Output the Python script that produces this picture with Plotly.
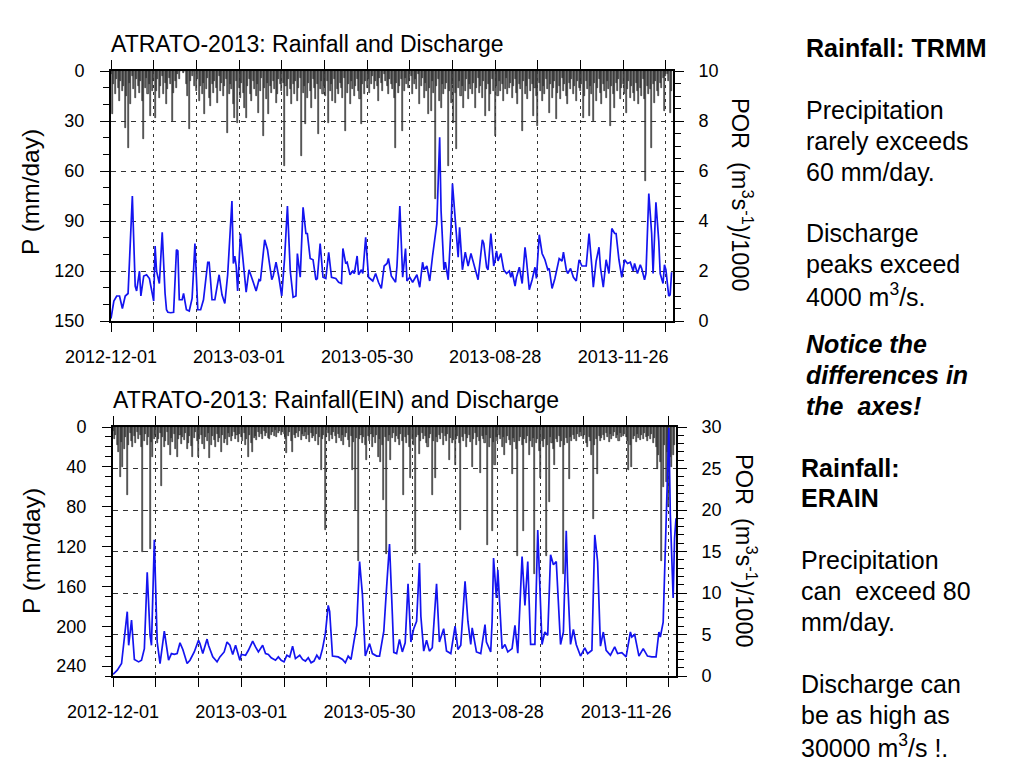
import pandas as pd
import plotly.graph_objects as go

START = pd.Timestamp("2012-12-01")

# ---------------- data ----------------
# daily rainfall, TRMM (mm/day), starting 2012-12-01
rain_trmm = [
    2, 26, 8, 14, 5, 10, 18, 6, 12, 9, 34, 15, 46, 7, 20, 3, 11, 16, 5, 9, 13, 6, 18, 41, 10, 4, 14, 8, 27, 12,
    6, 28, 12, 5, 16, 9, 3, 14, 7, 20, 11, 4, 8, 30, 13, 6, 10, 2, 5, 0, 0, 1, 0, 8, 15, 35, 6, 3, 0, 9,
    12, 5, 18, 9, 14, 7, 26, 11, 4, 16, 21, 8, 13, 6, 10, 19, 3, 12, 7, 15, 9, 5, 37, 14, 8, 11, 20, 28, 6, 31,
    10, 16, 7, 13, 22, 28, 9, 5, 14, 18, 6, 11, 15, 8, 25, 12, 4, 39, 10, 17, 7, 26, 9, 13, 6, 11, 19, 14, 5, 8,
    12, 7, 57, 9, 15, 5, 11, 20, 8, 14, 6, 18, 10, 4, 51, 13, 9, 32, 16, 7, 12, 22, 5, 10, 17, 8, 38, 11, 6, 14,
    9, 15, 6, 31, 12, 8, 18, 5, 19, 11, 14, 7, 10, 16, 4, 36, 13, 8, 20, 6, 11, 15, 9, 5, 12, 17, 32, 8, 14, 6,
    10, 5, 13, 8, 3, 11, 6, 9, 18, 4, 7, 12, 2, 6, 9, 14, 5, 8, 11, 16, 46, 7, 13, 9, 5, 36, 12, 4, 8, 10,
    6, 3, 14, 8, 5, 11, 2, 20, 9, 4, 16, 7, 12, 26, 10, 24, 6, 13, 77, 9, 5, 18, 22, 8, 14, 11, 7, 57, 12, 19,
    8, 31, 13, 47, 10, 6, 15, 9, 22, 12, 5, 17, 8, 11, 14, 7, 22, 10, 4, 13, 9, 16, 6, 27, 11, 8, 24, 14, 5, 12,
    39, 9, 15, 6, 12, 8, 18, 11, 4, 14, 10, 7, 16, 9, 5, 13, 20, 8, 11, 36, 6, 14, 9, 17, 5, 12, 8, 27, 10, 15,
    33, 7, 12, 18, 9, 14, 5, 11, 25, 8, 16, 10, 6, 29, 13, 9, 17, 4, 12, 8, 15, 20, 7, 11, 5, 14, 9, 18, 6, 10,
    12, 8, 28, 15, 6, 11, 27, 9, 14, 30, 7, 18, 10, 5, 13, 20, 8, 12, 16, 6, 11, 33, 9, 14, 22, 7, 12, 5, 17, 10,
    8, 14, 25, 11, 6, 16, 9, 13, 18, 7, 12, 20, 10, 15, 5, 17, 66, 9, 14, 11, 46, 8, 19, 6, 12, 15, 7, 10, 4, 24,
    3, 2, 6, 25, 12,
]

# daily rainfall, ERA-Interim (mm/day), starting 2012-12-01
rain_erain = [
    4, 12, 8, 18, 25, 50, 15, 40, 22, 10, 68, 18, 6, 14, 20, 9, 16, 5, 12, 8, 20, 125, 14, 7, 18, 10, 122, 15, 30, 12,
    8, 16, 12, 6, 59, 10, 20, 14, 5, 18, 28, 11, 15, 7, 22, 30, 12, 8, 17, 10, 13, 6, 22, 16, 9, 19, 30, 11, 5, 14,
    30, 12, 8, 17, 22, 10, 14, 6, 31, 18, 9, 13, 20, 7, 15, 11, 25, 8, 16, 12, 18, 6, 10, 14, 9, 5, 12, 8, 15, 7,
    10, 14, 6, 18, 12, 30, 8, 16, 25, 11, 9, 13, 5, 10, 7, 12, 4, 9, 6, 11, 12, 8, 5, 9, 3, 10, 6, 4, 8, 5,
    7, 12, 26, 9, 5, 14, 25, 8, 11, 6, 10, 4, 13, 7, 9, 5, 12, 8, 15, 6, 11, 9, 14, 7, 18, 10, 43, 12, 8, 103,
    10, 6, 14, 8, 12, 5, 9, 16, 7, 11, 14, 8, 18, 10, 6, 13, 20, 9, 43, 15, 83, 11, 135, 12, 8, 16, 10, 18, 33, 9,
    14, 7, 20, 10, 16, 8, 30, 12, 35, 18, 73, 10, 128, 14, 8, 33, 11, 6, 15, 9, 12, 18, 7, 14, 68, 10, 16, 8, 20, 51,
    12, 18, 128, 10, 8, 27, 14, 6, 12, 9, 16, 20, 11, 7, 68, 14, 51, 10, 15, 8, 12, 6, 18, 9, 14, 7, 33, 11, 16, 13,
    38, 12, 9, 16, 103, 10, 14, 7, 20, 11, 8, 15, 40, 12, 6, 18, 10, 14, 46, 9, 12, 16, 8, 118, 20, 11, 104, 15, 38, 10,
    14, 8, 12, 20, 10, 28, 16, 9, 13, 18, 47, 11, 15, 22, 130, 14, 10, 18, 104, 12, 16, 9, 28, 14, 20, 11, 148, 16, 12, 24,
    51, 14, 20, 12, 130, 18, 75, 10, 16, 22, 38, 12, 15, 9, 20, 14, 148, 18, 11, 16, 52, 10, 14, 8, 12, 14, 7, 10, 5, 9,
    12, 8, 16, 20, 10, 14, 28, 92, 18, 12, 47, 9, 14, 11, 8, 13, 6, 10, 15, 7, 12, 9, 5, 11, 8, 14, 6, 10, 9, 7,
    10, 14, 43, 18, 40, 12, 9, 15, 7, 11, 13, 8, 12, 6, 10, 14, 9, 12, 7, 16, 11, 20, 42, 28, 35, 135, 60, 18, 55, 25,
    80, 30, 40, 28, 18,
]

# discharge (m3/s / 1000): (day since 2012-12-01, value)
q_top = [
    (0, 0.1), (2, 0.8), (4, 1.0), (6, 1.0), (8, 0.5), (10, 1.0), (12, 1.1), (15, 5.0), (17, 1.4), (18, 1.2),
    (20, 2.0), (21, 1.0), (23, 1.8), (25, 1.85), (27, 1.7), (29, 1.0), (30, 0.8), (31, 3.0), (32, 2.0), (34, 1.5),
    (36, 3.55), (38, 1.1), (39, 0.45), (40, 0.35), (42, 0.33), (44, 0.35), (46, 2.85), (47, 2.8), (48, 0.85),
    (50, 0.85), (51, 1.1), (53, 0.45), (55, 0.4), (57, 0.9), (59, 3.1), (61, 0.45), (63, 0.45), (65, 0.85),
    (68, 2.35), (69, 2.35), (71, 0.85), (73, 0.85), (76, 1.85), (78, 1.05), (80, 0.7), (82, 1.85), (85, 4.8),
    (86, 2.3), (87, 2.6), (88, 2.2), (89, 1.2), (91, 3.5), (93, 2.4), (95, 1.15), (97, 2.05), (99, 1.65),
    (100, 1.55), (102, 1.2), (104, 1.65), (105, 1.6), (108, 3.25), (110, 2.85), (113, 1.65), (114, 1.8),
    (116, 2.35), (118, 1.75), (120, 1.0), (122, 2.5), (124, 4.6), (126, 2.0), (128, 0.95), (130, 1.0),
    (131, 2.7), (133, 1.75), (135, 4.55), (137, 3.5), (138, 3.5), (140, 2.5), (142, 2.45), (144, 1.65),
    (145, 1.7), (147, 3.1), (149, 1.75), (151, 1.7), (153, 2.75), (155, 1.75), (158, 1.7), (160, 1.55),
    (162, 1.5), (163, 2.9), (165, 2.3), (166, 2.35), (168, 1.85), (170, 2.0), (171, 1.9), (173, 2.6),
    (174, 1.85), (176, 2.05), (177, 1.9), (179, 3.35), (181, 1.75), (184, 1.6), (186, 1.9), (188, 1.55),
    (190, 1.3), (192, 2.2), (194, 2.3), (195, 2.5), (197, 1.8), (200, 1.55), (201, 2.2), (203, 4.6),
    (205, 1.75), (207, 2.9), (208, 1.6), (210, 1.75), (212, 1.55), (215, 1.85), (217, 1.35), (219, 2.35),
    (220, 2.05), (222, 2.2), (224, 1.6), (226, 2.6), (229, 3.9), (231, 7.35), (232, 4.4), (234, 2.05),
    (235, 2.35), (237, 1.65), (239, 3.75), (240, 5.5), (242, 4.15), (244, 2.55), (245, 3.75), (247, 2.05),
    (249, 2.75), (251, 2.2), (253, 2.7), (255, 2.3), (258, 1.65), (261, 3.25), (262, 3.1), (264, 2.15),
    (265, 2.05), (267, 3.5), (269, 2.2), (270, 2.45), (271, 2.8), (272, 2.4), (274, 2.7), (276, 2.05),
    (278, 1.9), (280, 2.0), (281, 1.75), (282, 1.95), (284, 1.4), (285, 1.75), (287, 2.15), (289, 1.5),
    (291, 2.95), (292, 2.45), (294, 1.25), (296, 1.65), (298, 2.15), (299, 1.7), (301, 3.45), (303, 2.7),
    (305, 2.45), (307, 2.05), (308, 2.1), (310, 1.3), (312, 1.7), (315, 2.5), (317, 2.4), (318, 2.75),
    (320, 2.05), (321, 1.9), (323, 2.1), (325, 1.75), (327, 1.6), (329, 2.45), (331, 2.2), (334, 2.2),
    (336, 3.5), (338, 2.15), (339, 1.35), (341, 2.4), (343, 2.95), (344, 2.15), (346, 1.35), (348, 2.45),
    (350, 1.9), (352, 3.7), (354, 3.5), (355, 3.5), (357, 2.45), (359, 1.75), (361, 2.45), (363, 2.3),
    (365, 2.35), (367, 2.0), (368, 2.3), (370, 1.9), (372, 2.25), (373, 2.1), (375, 1.65), (376, 1.9),
    (378, 5.1), (380, 3.5), (381, 1.9), (383, 4.75), (385, 3.2), (386, 1.9), (388, 1.5), (389, 2.25),
    (390, 2.05), (392, 1.0), (393, 1.05), (394, 1.95),
]

q_bot = [
    (0, 0.2), (3, 0.7), (6, 1.5), (8, 4.9), (10, 7.75), (11, 3.7), (13, 6.75), (15, 2.0), (18, 1.7), (20, 1.9),
    (22, 3.3), (24, 12.5), (26, 4.9), (27, 3.7), (29, 16.4), (31, 4.1), (33, 1.5), (36, 5.4), (39, 1.9),
    (41, 2.7), (43, 2.6), (45, 2.7), (47, 4.0), (49, 3.2), (52, 1.5), (54, 1.9), (57, 2.9), (60, 4.3),
    (61, 3.9), (63, 2.7), (66, 4.45), (67, 3.7), (70, 2.3), (73, 1.7), (75, 2.3), (78, 2.9), (80, 4.1),
    (82, 3.7), (84, 2.6), (86, 3.7), (89, 1.9), (90, 2.6), (93, 2.5), (95, 3.1), (98, 4.2), (100, 3.5),
    (102, 2.9), (105, 3.7), (107, 2.7), (109, 2.6), (111, 2.2), (114, 1.9), (116, 2.3), (118, 1.9),
    (120, 1.7), (122, 2.5), (124, 2.3), (126, 3.6), (128, 2.1), (131, 2.5), (133, 2.0), (135, 1.8),
    (137, 2.2), (139, 1.6), (141, 1.8), (143, 2.5), (145, 2.0), (147, 3.3), (149, 5.1), (151, 8.5),
    (152, 7.8), (154, 2.4), (158, 2.3), (161, 2.0), (163, 1.6), (165, 2.4), (167, 2.0), (169, 4.1),
    (171, 6.1), (173, 13.8), (175, 9.8), (177, 2.4), (180, 3.9), (182, 2.7), (185, 2.4), (187, 2.4),
    (190, 5.4), (192, 10.8), (194, 15.9), (196, 7.4), (197, 2.85), (199, 2.7), (201, 4.4), (203, 2.9),
    (205, 4.0), (207, 11.1), (209, 4.1), (211, 5.7), (213, 6.6), (215, 13.6), (216, 7.2), (218, 3.0),
    (220, 4.3), (222, 3.0), (224, 3.4), (227, 11.1), (229, 4.1), (232, 5.7), (234, 3.0), (237, 2.7),
    (240, 6.0), (242, 3.2), (244, 3.7), (247, 11.4), (249, 6.6), (251, 3.8), (252, 5.8), (255, 2.9),
    (258, 2.7), (261, 6.2), (262, 4.1), (265, 2.9), (266, 6.6), (267, 14.2), (269, 9.4), (270, 12.8),
    (271, 9.4), (273, 3.3), (275, 3.8), (277, 2.9), (280, 3.3), (282, 6.1), (284, 2.75), (287, 14.4),
    (289, 8.5), (291, 13.8), (293, 3.8), (296, 3.8), (298, 17.6), (301, 3.8), (303, 5.3), (305, 4.9),
    (307, 14.6), (309, 13.4), (311, 13.8), (314, 3.8), (316, 5.3), (318, 17.5), (319, 11.4), (321, 3.8),
    (323, 5.6), (325, 3.8), (328, 2.4), (331, 3.4), (333, 2.7), (336, 3.1), (338, 17.0), (340, 13.8),
    (342, 3.6), (344, 5.3), (346, 3.1), (349, 2.5), (352, 3.5), (354, 2.7), (357, 2.8), (360, 2.3),
    (363, 5.3), (364, 4.7), (366, 5.0), (369, 2.4), (372, 3.3), (375, 2.4), (378, 2.3), (381, 2.3),
    (383, 5.3), (384, 4.7), (386, 6.5), (388, 19.5), (390, 29.9), (391, 19.5), (393, 9.4), (394, 16.6),
    (395, 19.0),
]

tick_dates = ["2012-12-01", "2012-12-31", "2013-01-30", "2013-03-01", "2013-03-31", "2013-04-30",
              "2013-05-30", "2013-06-29", "2013-07-29", "2013-08-28", "2013-09-27", "2013-10-27",
              "2013-11-26", "2013-12-26"]
tick_labels = ["2012-12-01", "", "", "2013-03-01", "", "", "2013-05-30", "", "", "2013-08-28",
               "", "", "2013-11-26", ""]

p_ticks_top = [0, 30, 60, 90, 120, 150]
q_ticks_top = [0, 2, 4, 6, 8, 10]
p_ticks_bot = [0, 40, 80, 120, 160, 200, 240]
q_ticks_bot = [0, 5, 10, 15, 20, 25, 30]

titles = ["ATRATO-2013: Rainfall and Discharge", "ATRATO-2013: Rainfall(EIN) and Discharge"]
left_title = "P (mm/day)"
right_title = "POR  (m<sup>3</sup>s<sup>-1</sup>)/1000"

notes_top = ["<b>Rainfall: TRMM</b>", "Precipitation", "rarely exceeds", "60 mm/day.",
             "Discharge", "peaks exceed", "4000 m<sup>3</sup>/s.",
             "<b><i>Notice the</i></b>", "<b><i>differences in</i></b>", "<b><i>the  axes!</i></b>"]
notes_bot = ["<b>Rainfall:</b>", "<b>ERAIN</b>", "Precipitation", "can  exceed 80", "mm/day.",
             "Discharge can", "be as high as", "30000 m<sup>3</sup>/s !."]

# ---------------- figure ----------------
FONT = "Liberation Sans, Arial, Helvetica, sans-serif"
PAGE_OFF = 8            # default body margin of the html page
W, H = 1024 - 2 * PAGE_OFF, 768 - 2 * PAGE_OFF
DAY_MS = 86400000


def px_x(xp):           # page pixel -> paper fraction
    return (xp - PAGE_OFF) / W


def px_y(yp):
    return 1 - (yp - PAGE_OFF) / H


def day_dates(days):
    return [START + pd.Timedelta(days=d) for d in days]


x_range = [START, START + pd.Timedelta(days=395)]

fig = go.Figure()

fig.add_trace(go.Bar(x=pd.date_range(START, periods=len(rain_trmm), freq="D"), y=rain_trmm,
                     xaxis="x", yaxis="y", width=0.72 * DAY_MS,
                     marker=dict(color="#777777", line=dict(color="#1a1a1a", width=0.6)),
                     showlegend=False))
fig.add_trace(go.Scatter(x=day_dates([d for d, _ in q_top]), y=[v for _, v in q_top],
                         xaxis="x", yaxis="y2", mode="lines",
                         line=dict(color="#1414f0", width=1.7), showlegend=False))
fig.add_trace(go.Bar(x=pd.date_range(START, periods=len(rain_erain), freq="D"), y=rain_erain,
                     xaxis="x2", yaxis="y3", width=0.72 * DAY_MS,
                     marker=dict(color="#777777", line=dict(color="#1a1a1a", width=0.6)),
                     showlegend=False))
fig.add_trace(go.Scatter(x=day_dates([d for d, _ in q_bot]), y=[v for _, v in q_bot],
                         xaxis="x2", yaxis="y4", mode="lines",
                         line=dict(color="#1414f0", width=1.7), showlegend=False))

tickfont = dict(family=FONT, size=18, color="black")


def xaxis_cfg(domain, anchor):
    return dict(domain=domain, anchor=anchor, type="date", range=x_range, automargin=False,
                tickmode="array", tickvals=tick_dates, ticktext=tick_labels,
                ticks="outside", ticklen=9, tickwidth=1, tickcolor="black",
                mirror="ticks", showline=True, linewidth=2, linecolor="black",
                showgrid=True, gridcolor="#333333", gridwidth=1, griddash="3px,4px",
                zeroline=False, tickfont=tickfont, ticklabelstandoff=9, fixedrange=True)


def left_cfg(domain, anchor, rng, tv, minor_dt, grid):
    return dict(domain=domain, anchor=anchor, range=rng, tickmode="array", tickvals=tv,
                automargin=False,
                ticks="outside", ticklen=9, tickwidth=1, tickcolor="black",
                minor=dict(dtick=minor_dt, tick0=0, ticks="outside", ticklen=6, tickcolor="black",
                           showgrid=False),
                showline=True, linewidth=2, linecolor="black",
                showgrid=grid, gridcolor="#333333", gridwidth=1, griddash="5px,5px",
                zeroline=False, tickfont=tickfont, ticklabelstandoff=12)


def right_cfg(over, anchor, rng, tv, minor_dt, grid):
    return dict(overlaying=over, anchor=anchor, side="right", range=rng, tickmode="array",
                automargin=False,
                tickvals=tv, ticks="outside", ticklen=9, tickwidth=1, tickcolor="black",
                minor=dict(dtick=minor_dt, tick0=0, ticks="outside", ticklen=6, tickcolor="black",
                           showgrid=False),
                showline=True, linewidth=2, linecolor="black",
                showgrid=grid, gridcolor="#333333", gridwidth=1, griddash="5px,5px",
                zeroline=False, tickfont=tickfont, ticklabelstandoff=11)


top_dom_y = [px_y(321), px_y(71)]
bot_dom_y = [px_y(676), px_y(427)]

fig.update_layout(
    template="none",
    width=W, height=H,
    margin=dict(l=0, r=0, t=0, b=0, autoexpand=False),
    paper_bgcolor="white", plot_bgcolor="white",
    font=dict(family=FONT, color="black"),
    bargap=0,
    xaxis=xaxis_cfg([px_x(111), px_x(673)], "y"),
    yaxis=left_cfg(top_dom_y, "x", [150, 0], p_ticks_top, 10, True),
    yaxis2=right_cfg("y", "x", [0, 10], q_ticks_top, 0.5, False),
    xaxis2=xaxis_cfg([px_x(113), px_x(676)], "y3"),
    yaxis3=left_cfg(bot_dom_y, "x2", [250, 0], p_ticks_bot, 10, False),
    yaxis4=right_cfg("y3", "x2", [0, 30], q_ticks_bot, 1, True),
)

ann = []


def add_text(text, xp, yp, size, angle=0, xanchor="left"):
    ann.append(dict(text=text, x=px_x(xp), y=px_y(yp), xref="paper", yref="paper",
                    xanchor=xanchor, yanchor="middle", showarrow=False, textangle=angle,
                    font=dict(family=FONT, size=size, color="black"), align="left"))


add_text(titles[0], 109, 44, 23)
add_text(titles[1], 111, 400, 23)
add_text(left_title, 31, 192, 24.5, angle=-90, xanchor="center")
add_text(left_title, 31, 551, 24.5, angle=-90, xanchor="center")
add_text(right_title, 742, 195, 23.5, angle=90, xanchor="center")
add_text(right_title, 746, 551, 23.5, angle=90, xanchor="center")

top_y = [48, 110, 141, 172, 233, 264, 295, 344, 375, 406]
for t, y in zip(notes_top, top_y):
    add_text(t, 804, y, 25)
bot_y = [468, 498, 560, 591, 622, 684, 715, 746]
for t, y in zip(notes_bot, bot_y):
    add_text(t, 799, y, 25)

fig.update_layout(annotations=ann)

fig.write_html("out.html")
